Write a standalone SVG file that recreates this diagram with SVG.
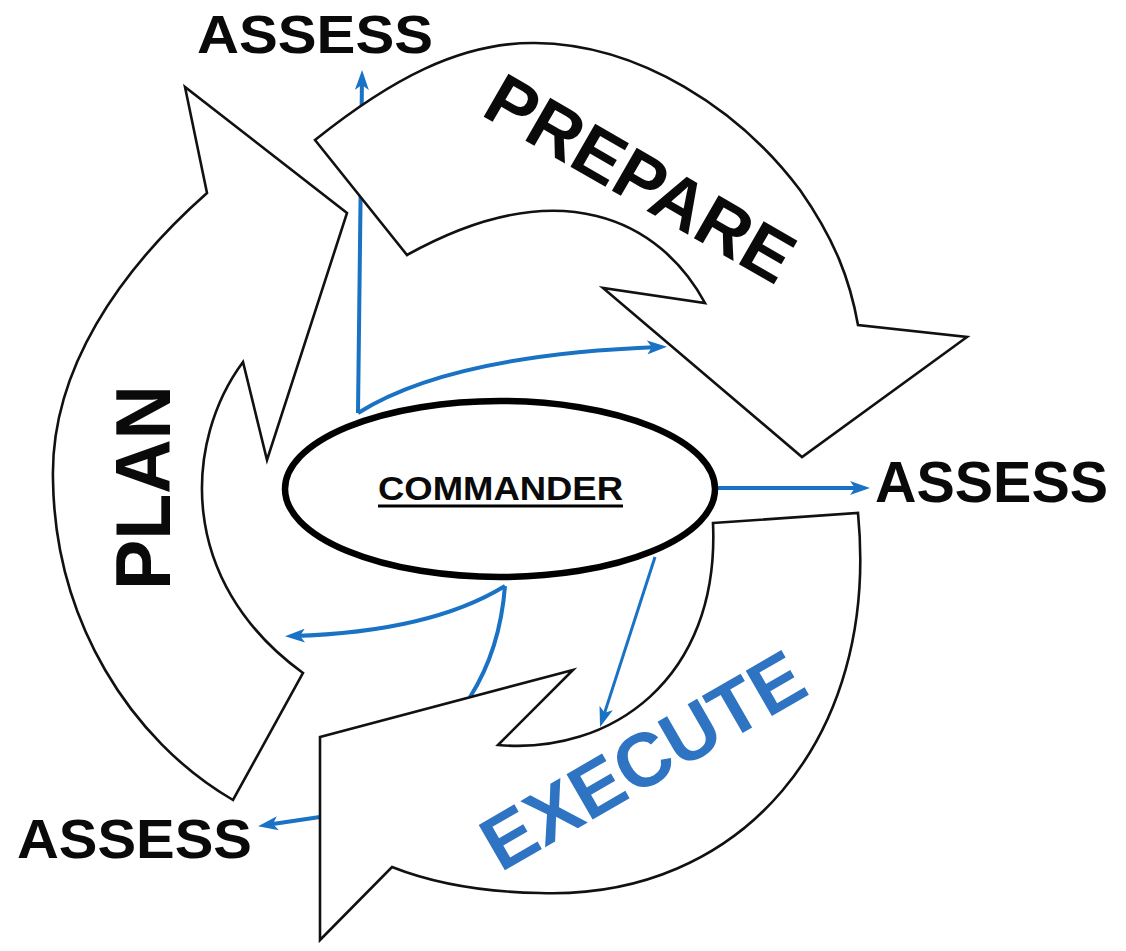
<svg xmlns="http://www.w3.org/2000/svg" width="1126" height="951" viewBox="0 0 1126 951">
<defs>
<style>
.shape{fill:#fff;stroke:#111;stroke-width:2.6;stroke-linejoin:miter}
.conn{fill:none;stroke:#1a72c4;stroke-width:4}
.lbl{font-family:"Liberation Sans",Arial,sans-serif;font-weight:bold;fill:#0a0a0a}
</style>
<marker id="ah" markerUnits="userSpaceOnUse" markerWidth="20" markerHeight="14" viewBox="0 0 20 14" refX="12" refY="7" orient="auto">
<path d="M0,0 L20,7 L0,14 L5,7 z" fill="#1a72c4"/>
</marker>
</defs>
<rect width="1126" height="951" fill="#fff"/>
<g id="connectors">
<path class="conn" d="M358,413 L362,78" marker-end="url(#ah)"/>
<path class="conn" d="M358,413 Q450,355 659,347" marker-end="url(#ah)"/>
<path class="conn" d="M716,488 L862,488" marker-end="url(#ah)"/>
<path class="conn" d="M505,586 Q430,632 293,636" marker-end="url(#ah)"/>
<path class="conn" d="M505,586 Q500,650 470,697"/>
<path class="conn" style="stroke-width:3" d="M655,557 L602.5,719.4" marker-end="url(#ah)"/>
<path class="conn" d="M320,817 L266,825" marker-end="url(#ah)"/>
</g>
<g id="plan">
<path class="shape" d="M233,800 C130,740 55,620 53,480 C50,370 120,270 207,193 L185,87 L347,213 L267,460 L243,362 C185,440 175,580 303,673 Z"/>
<text class="lbl" font-size="78" textLength="205" lengthAdjust="spacingAndGlyphs" transform="translate(170,590) rotate(-90)">PLAN</text>
</g>
<g id="prepare">
<path class="shape" d="M315,140 C390,80 460,42 535,43 C640,44 740,110 800,190 C835,240 850,280 858,325 L967,337 L802,457 L603,288 L705,303 C660,220 560,170 407,255 Z"/>
<text class="lbl" font-size="72" text-anchor="middle" transform="translate(628,200) rotate(30)">PREPARE</text>
</g>
<g id="execute">
<path class="shape" d="M713,523 L858,513 C880,740 740,900 540,893 C480,892 430,882 392,867 L320,940 L320,737 L573,670 L498,745 C610,755 720,680 713,523 Z"/>
<text class="lbl" font-size="76" text-anchor="middle" style="fill:#2e74c2" transform="translate(656,783) rotate(-30)">EXECUTE</text>
</g>
<g id="commander">
<ellipse cx="500" cy="489" rx="215" ry="88" fill="#fff" stroke="#000" stroke-width="6.5"/>
<text class="lbl" x="378" y="500" font-size="33" textLength="245" lengthAdjust="spacingAndGlyphs">COMMANDER</text>
<line x1="378" y1="506" x2="623" y2="506" stroke="#000" stroke-width="3"/>
</g>
<g id="assess-top">
<text class="lbl" x="197" y="53" font-size="54" textLength="236" lengthAdjust="spacingAndGlyphs">ASSESS</text>
</g>
<g id="assess-right">
<text class="lbl" x="875" y="502" font-size="58" textLength="233" lengthAdjust="spacingAndGlyphs">ASSESS</text>
</g>
<g id="assess-bottom">
<text class="lbl" x="17" y="858" font-size="56" textLength="235" lengthAdjust="spacingAndGlyphs">ASSESS</text>
</g>
</svg>
